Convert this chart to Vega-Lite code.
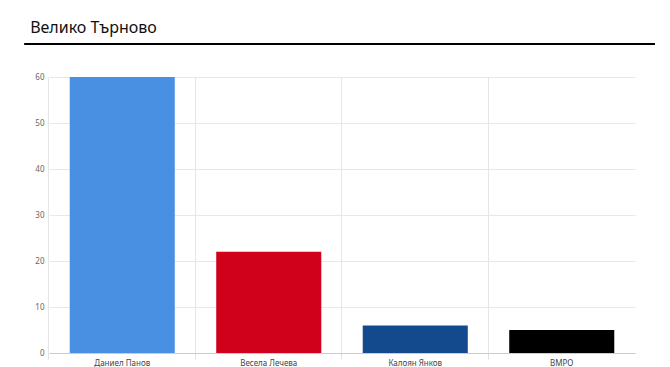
{
  "$schema": "https://vega.github.io/schema/vega-lite/v6.json",
  "padding": {"left": 23, "top": 0, "right": 0, "bottom": 0},
  "background": "white",
  "config": {"view": {"stroke": null}, "font": "Noto Sans"},
  "spacing": 28,
  "vconcat": [
    {
      "width": 606,
      "height": 44,
      "data": {"values": [{"title": "Велико Търново"}]},
      "layer": [
        {
          "mark": {"type": "text", "align": "left", "baseline": "middle", "fontSize": 16, "color": "#111111", "dx": 6},
          "encoding": {
            "text": {"field": "title"},
            "x": {"datum": -0.041, "type": "quantitative", "scale": {"domain": [0, 1]}, "axis": null},
            "y": {"datum": 0.36, "type": "quantitative", "scale": {"domain": [0, 1]}, "axis": null}
          }
        },
        {
          "mark": {"type": "rule", "color": "#000000", "strokeWidth": 2},
          "encoding": {
            "x": {"datum": -0.041, "type": "quantitative", "scale": {"domain": [0, 1]}, "axis": null},
            "x2": {"datum": 1},
            "y": {"datum": 0, "type": "quantitative", "scale": {"domain": [0, 1]}, "axis": null}
          }
        }
      ]
    },
    {
      "width": 586,
      "height": 276,
      "data": {"values": [
        {"name": "Даниел Панов", "votes": 60},
        {"name": "Весела Лечева", "votes": 22},
        {"name": "Калоян Янков", "votes": 6},
        {"name": "ВМРО", "votes": 5}
      ]},
      "mark": {"type": "bar"},
      "encoding": {
        "x": {
          "field": "name", "type": "nominal", "sort": null,
          "scale": {"paddingInner": 0.283, "paddingOuter": 0.1415},
          "axis": {"title": null, "labelAngle": 0, "labelFontSize": 8, "labelColor": "#444444", "bandPosition": -0.1976, "grid": true, "gridColor": "#e6e6e6", "ticks": true, "tickSize": 6, "tickColor": "#e0e0e0", "domainColor": "#cccccc", "labelPadding": 0}
        },
        "y": {
          "field": "votes", "type": "quantitative",
          "scale": {"domain": [0, 60], "nice": false},
          "axis": {"title": null, "values": [0, 10, 20, 30, 40, 50, 60], "labelFontSize": 8, "labelColor": "#666666", "ticks": false, "domain": false, "labelPadding": 5, "gridColor": "#e8e8e8", "minExtent": 26, "maxExtent": 26}
        },
        "color": {
          "field": "name", "type": "nominal",
          "scale": {"domain": ["Даниел Панов", "Весела Лечева", "Калоян Янков", "ВМРО"], "range": ["#4a90e2", "#d0021b", "#134a8e", "#000000"]},
          "legend": null
        }
      }
    }
  ]
}
